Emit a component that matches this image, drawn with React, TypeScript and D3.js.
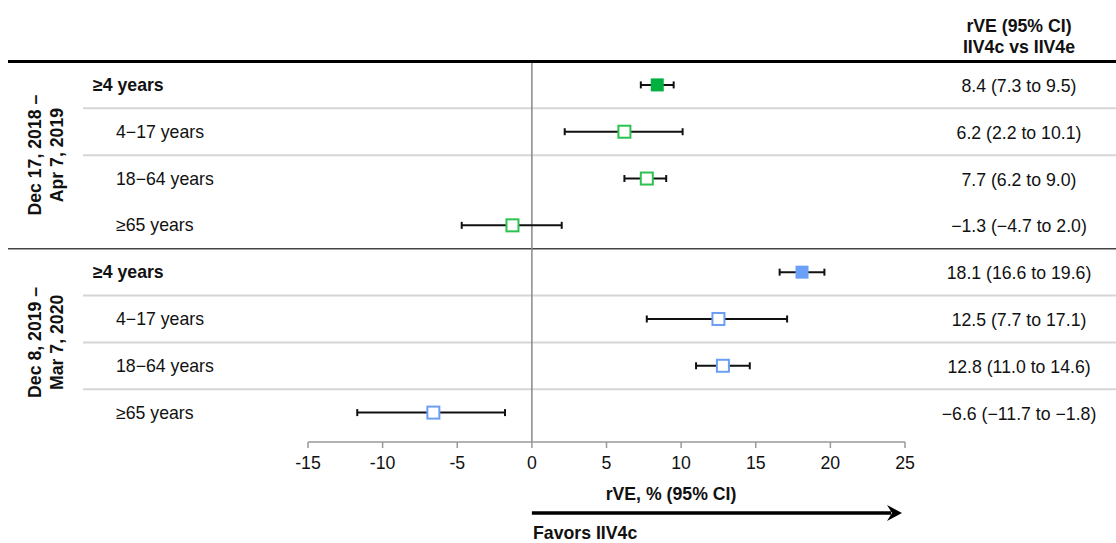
import React from "react";
import * as d3 from "d3";

const rowLabels = ["≥4 years", "4−17 years", "18−64 years", "≥65 years", "≥4 years", "4−17 years", "18−64 years", "≥65 years"];
const rowGroup = [0, 0, 0, 0, 1, 1, 1, 1];
const rowOverall = [true, false, false, false, true, false, false, false];
const estimates = [8.4, 6.2, 7.7, -1.3, 18.1, 12.5, 12.8, -6.6];
const lower = [7.3, 2.2, 6.2, -4.7, 16.6, 7.7, 11.0, -11.7];
const upper = [9.5, 10.1, 9.0, 2.0, 19.6, 17.1, 14.6, -1.8];
const ciText = [
  "8.4 (7.3 to 9.5)",
  "6.2 (2.2 to 10.1)",
  "7.7 (6.2 to 9.0)",
  "−1.3 (−4.7 to 2.0)",
  "18.1 (16.6 to 19.6)",
  "12.5 (7.7 to 17.1)",
  "12.8 (11.0 to 14.6)",
  "−6.6 (−11.7 to −1.8)",
];
const groupLabels = [
  ["Dec 17, 2018 –", "Apr 7, 2019"],
  ["Dec 8, 2019 –", "Mar 7, 2020"],
];
const xTicks = [-15, -10, -5, 0, 5, 10, 15, 20, 25];
// separators drawn below these row indices (within groups)
const lightSeparatorsAfter = [0, 1, 4, 5, 6];

const W = 1116;
const H = 543;
const FONT = "'Liberation Sans', Arial, sans-serif";
const FS = 17.7;
const fillColors = ["#00b140", "#6aa0f8"];
const strokeColors = ["#2cc24f", "#6b9ef5"];

export default function App() {
  const x = d3.scaleLinear().domain([-15, 25]).range([308, 905]);
  const y = d3
    .scaleBand<number>()
    .domain(d3.range(rowLabels.length))
    .range([61.5, 436])
    .paddingInner(0)
    .paddingOuter(0);
  const bw = y.bandwidth();
  const cy = (i: number) => (y(i) as number) + bw / 2;
  const axisY = 442;
  const ms = 12;

  return (
    <svg width={W} height={H} style={{ position: "absolute", left: 0, top: 0, background: "#fff" }} fontFamily={FONT}>
      {/* header */}
      <text x={1019} y={31.5} textAnchor="middle" fontSize={FS} fontWeight="bold" fill="#111">
        rVE (95% CI)
      </text>
      <text x={1019} y={53} textAnchor="middle" fontSize={FS} fontWeight="bold" fill="#111">
        IIV4c vs IIV4e
      </text>
      {/* light separators */}
      {lightSeparatorsAfter.map((i) => (
        <line key={"s" + i} x1={83} x2={W} y1={(y(i) as number) + bw} y2={(y(i) as number) + bw} stroke="#d6d6d6" strokeWidth={2} />
      ))}
      {/* group separator */}
      <line x1={8} x2={W} y1={(y(4) as number)} y2={(y(4) as number)} stroke="#444" strokeWidth={1.5} />
      {/* top line */}
      <line x1={8} x2={W} y1={61.5} y2={61.5} stroke="#000" strokeWidth={3} />
      {/* zero line */}
      <line x1={x(0)} x2={x(0)} y1={63} y2={axisY} stroke="#888" strokeWidth={1.5} />
      {/* group labels */}
      {groupLabels.map((lines, g) => {
        const rows = d3.range(rowLabels.length).filter((i) => rowGroup[i] === g);
        const y0 = y(rows[0]) as number;
        const y1 = (y(rows[rows.length - 1]) as number) + bw;
        const yc = (y0 + y1) / 2;
        return lines.map((t, k) => (
          <text
            key={"g" + g + k}
            transform={`translate(${35 + k * 22},${yc}) rotate(-90)`}
            textAnchor="middle"
            dominantBaseline="central"
            fontSize={FS}
            fontWeight="bold"
            fill="#111"
          >
            {t}
          </text>
        ));
      })}
      {/* rows */}
      {rowLabels.map((lab, i) => {
        const g = rowGroup[i];
        const yy = cy(i);
        const filled = rowOverall[i];
        return (
          <g key={"r" + i}>
            <text
              x={filled ? 93 : 116}
              y={yy}
              dominantBaseline="central"
              fontSize={FS}
              fontWeight={filled ? "bold" : "normal"}
              fill="#111"
            >
              {lab}
            </text>
            <line x1={x(lower[i])} x2={x(upper[i])} y1={yy} y2={yy} stroke="#111" strokeWidth={2} />
            <line x1={x(lower[i])} x2={x(lower[i])} y1={yy - 3.5} y2={yy + 3.5} stroke="#111" strokeWidth={2} />
            <line x1={x(upper[i])} x2={x(upper[i])} y1={yy - 3.5} y2={yy + 3.5} stroke="#111" strokeWidth={2} />
            {filled ? (
              <rect x={x(estimates[i]) - ms / 2 - 0.5} y={yy - ms / 2 - 0.5} width={ms + 1} height={ms + 1} fill={fillColors[g]} />
            ) : (
              <rect x={x(estimates[i]) - ms / 2} y={yy - ms / 2} width={ms} height={ms} fill="#fff" stroke={strokeColors[g]} strokeWidth={2} />
            )}
            <text x={1019} y={yy + 1} textAnchor="middle" dominantBaseline="central" fontSize={FS} fill="#111">
              {ciText[i]}
            </text>
          </g>
        );
      })}
      {/* x axis */}
      <line x1={x(-15)} x2={x(25)} y1={axisY} y2={axisY} stroke="#999" strokeWidth={1.5} />
      {xTicks.map((t) => (
        <g key={"t" + t}>
          <line x1={x(t)} x2={x(t)} y1={axisY} y2={axisY + 6} stroke="#999" strokeWidth={1.5} />
          <text x={x(t)} y={463} textAnchor="middle" dominantBaseline="central" fontSize={FS} fill="#111">
            {String(t)}
          </text>
        </g>
      ))}
      <text x={671} y={494} textAnchor="middle" dominantBaseline="central" fontSize={FS} fontWeight="bold" fill="#111">
        rVE, % (95% CI)
      </text>
      {/* arrow */}
      <line x1={x(0)} x2={x(25) - 14} y1={513} y2={513} stroke="#000" strokeWidth={3.5} />
      <path d={`M${x(25) - 3},513 L${x(25) - 18},505 L${x(25) - 13},513 L${x(25) - 18},521 Z`} fill="#000" />
      <text x={533} y={533} dominantBaseline="central" fontSize={FS} fontWeight="bold" fill="#111">
        Favors IIV4c
      </text>
    </svg>
  );
}
